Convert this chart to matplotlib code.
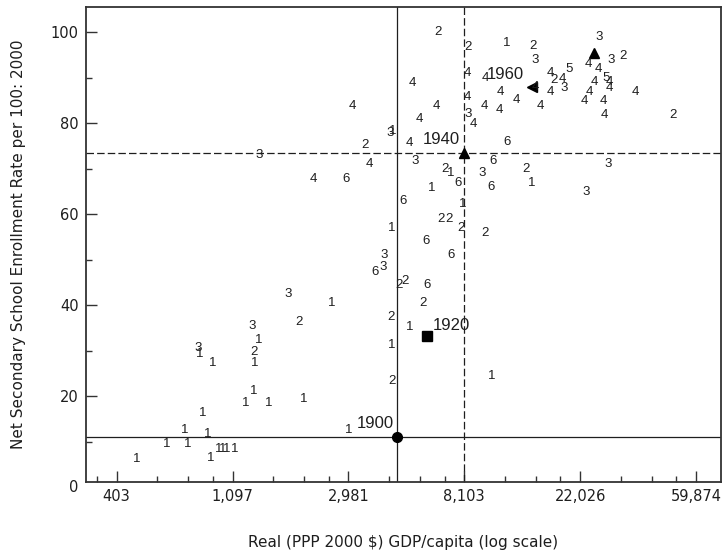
import numpy as np
import matplotlib
matplotlib.use("Agg")
import matplotlib.pyplot as plt

plt.rcParams['font.family'] = ['DejaVu Sans']

# countries in 2000: ln(real GDP per capita), net secondary enrollment, group digit
ln_gdp = [8.03, 8.36, 8.38, 8.14, 7.23, 8.18, 7.70, 7.98, 8.47, 8.37,
          8.77, 9.03, 9.365, 9.59, 9.61, 10.16, 10.265, 10.37, 10.07, 10.16,
          9.905, 9.74, 9.77, 9.85, 9.86, 9.03, 9.18, 9.61, 9.74, 10.12,
          10.22, 10.25, 10.25, 10.08, 10.04, 10.20, 10.21, 10.48, 10.80, 8.55,
          9.03, 9.31, 9.445, 9.66, 9.17, 9.30, 8.755, 9.03, 9.08, 8.61,
          8.525, 9.37, 8.58, 9.25, 8.83, 8.88, 8.95, 9.15, 9.235, 9.53,
          9.58, 10.24, 10.05, 8.72, 8.99, 8.80, 8.87, 8.97, 9.18, 8.67,
          8.89, 8.31, 8.30, 8.23, 8.44, 8.49, 8.68, 8.645, 8.37, 8.53,
          8.37, 8.375, 9.24, 7.48, 7.86, 7.57, 7.165, 7.23, 6.70, 6.72,
          7.185, 7.19, 6.83, 7.185, 7.11, 7.31, 7.615, 6.74, 8.00, 6.59,
          6.785, 6.43, 6.61, 6.88, 6.915, 6.95, 7.02, 6.81, 6.17]
enroll = [83.8, 77.9, 78.3, 75.1, 73.0, 71.0, 67.8, 67.8, 63.0, 56.9,
          100.0, 96.8, 97.7, 97.0, 93.8, 99.0, 93.8, 94.8, 92.9, 91.8,
          91.9, 91.1, 89.5, 89.8, 87.8, 91.0, 89.9, 87.9, 86.8, 89.0,
          89.9, 89.0, 87.7, 86.8, 84.9, 84.9, 81.8, 86.9, 81.8, 88.8,
          85.8, 86.9, 85.0, 83.8, 83.8, 82.9, 83.8, 82.0, 79.8, 80.9,
          75.7, 75.8, 71.8, 71.8, 69.9, 69.0, 66.9, 69.0, 65.9, 69.9,
          66.9, 71.1, 64.9, 65.8, 62.3, 58.9, 58.9, 56.9, 55.9, 54.1,
          51.1, 51.1, 48.5, 47.4, 44.5, 45.3, 44.5, 40.4, 37.4, 35.3,
          31.3, 23.3, 24.5, 42.5, 40.4, 36.4, 35.5, 32.4, 30.7, 29.3,
          29.7, 27.3, 27.4, 21.2, 18.5, 18.5, 19.3, 16.4, 12.6, 12.6,
          11.7, 9.5, 9.5, 8.4, 8.4, 8.4, 8.4, 6.4, 6.2]
group = list("4312344661"
             "2212333244"
             "5424344444"
             "5444444424"
             "4444444344"
             "4636216362"
             "1331122226"
             "6336226221"
             "1213123131"
             "2111111111"
             "111111111")

# United States benchmarks
us_years = ['1900', '1920', '1940', '1960', '']
us_ln_gdp = [8.42, 8.675, 9.00, 9.58, 10.115]
us_enroll = [11.1, 33.3, 73.5, 88.0, 95.4]
us_markers = ['o', 's', '^', '<', '^']
# year label positions
lab_ln_gdp = [8.23, 8.89, 8.80, 9.35]
lab_enroll = [14.1, 35.5, 76.5, 90.8]

major_x = np.arange(6, 12)
minor_x = [k + f for k in range(5, 11) for f in (0.35, 0.62, 0.83)]

fig = plt.figure(figsize=(7.24, 5.52), dpi=100)
ax = fig.add_axes([85.7 / 724, 1 - 482 / 552, (721 - 85.7) / 724, (482 - 6.7) / 552])

ink = '#1e1e1e'
helv = ['Liberation Sans', 'DejaVu Sans']
for x, y, g in zip(ln_gdp, enroll, group):
    ax.text(x, y, g, ha='center', va='center', fontsize=9.5, color=ink, family=helv)

# reference lines through 1900 and 1940
ax.axvline(us_ln_gdp[0], color=ink, lw=0.9)
ax.axhline(us_enroll[0], color=ink, lw=0.9)
ax.axvline(us_ln_gdp[2], color=ink, lw=0.9, ls=(0, (6, 2.5)))
ax.axhline(us_enroll[2], color=ink, lw=0.9, ls=(0, (6, 2.5)))

for x, y, m in zip(us_ln_gdp, us_enroll, us_markers):
    ax.plot(x, y, marker=m, color='black', ms=7, ls='none')
for x, y, t in zip(lab_ln_gdp, lab_enroll, us_years):
    ax.text(x, y, t, ha='center', va='center', fontsize=12, color=ink, family=helv)

ax.set_xlim(5.733, 11.215)
ax.set_ylim(1.15, 105.6)

ax.set_xticks(major_x)
ax.set_xticklabels([f'{np.exp(k):,.0f}' for k in major_x])
ax.set_xticks([m for m in minor_x if 5.733 < m < 11.215], minor=True)
ax.set_yticks([20, 40, 60, 80, 100])
ax.set_yticks([10, 30, 50, 70, 90], minor=True)
ax.annotate('0', xy=(0, 0), xycoords=('axes fraction', 'data'), xytext=(-5.5, 0),
            textcoords='offset points', ha='right', va='center', fontsize=10.5,
            color=ink, annotation_clip=False)

ax.tick_params(which='major', direction='in', length=8, width=1, color='#333333',
               labelsize=10.5, labelcolor=ink, pad=5)
ax.tick_params(which='minor', direction='in', length=4, width=1, color='#333333')
for s in ax.spines.values():
    s.set_linewidth(1.3)
    s.set_color('#333333')

ax.set_xlabel('Real (PPP 2000 $) GDP/capita (log scale)', fontsize=11, color=ink, labelpad=22)
ax.set_ylabel('Net Secondary School Enrollment Rate per 100: 2000', fontsize=11, color=ink,
              labelpad=18)

fig.savefig('out.png', dpi=100)
